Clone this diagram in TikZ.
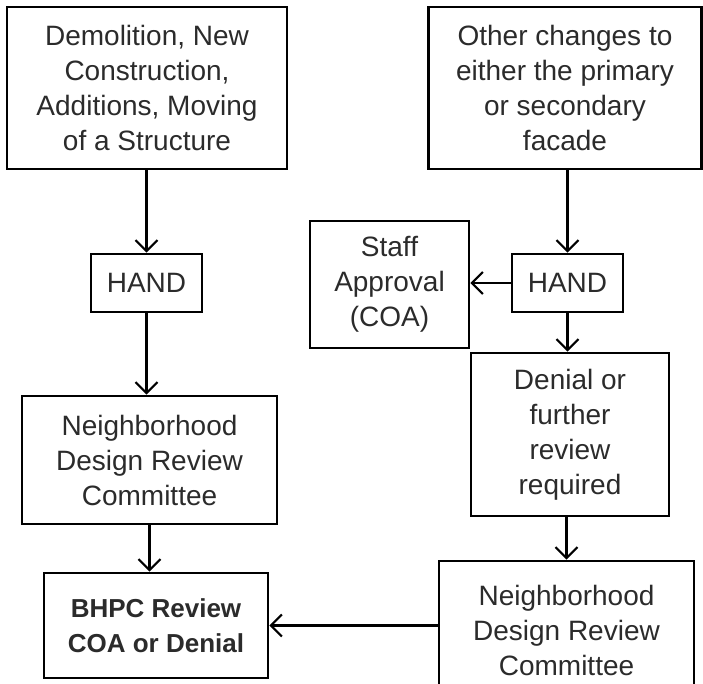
\documentclass[tikz,border=0pt]{standalone}
\usepackage{fontspec}
\setmainfont{Liberation Sans}
\usetikzlibrary{arrows.meta}
\definecolor{txt}{HTML}{2B2B2B}
\tikzset{
  box/.style={draw=black, line width=2.6pt, rectangle, align=center, inner sep=0pt,
    text=txt, font=\fontsize{28}{35}\selectfont},
  conn/.style={draw=black, line width=2.2pt, -{Straight Barb[length=11pt, width=22pt, line width=2.2pt]}}
}
\begin{document}
\begin{tikzpicture}[x=1pt,y=-1pt]
\useasboundingbox (0,0) rectangle (703,683);
\node[box, minimum width=280pt, minimum height=162pt] (b1) at (147,88)
  {Demolition, New\\Construction,\\Additions, Moving\\of a Structure};
\node[box, minimum width=273pt, minimum height=162pt] (b2) at (565,88)
  {Other changes to\\either the primary\\or secondary\\facade};
\node[box, minimum width=111pt, minimum height=58pt] (handl) at (146.5,283) {HAND};
\node[box, minimum width=111pt, minimum height=58pt] (handr) at (567.5,283) {HAND};
\node[box, minimum width=159pt, minimum height=127pt] (staff) at (389.5,284.5)
  {Staff\\Approval\\(COA)};
\node[box, minimum width=198pt, minimum height=163pt] (denial) at (570,434.5)
  {Denial or\\further\\review\\required};
\node[box, minimum width=255pt, minimum height=128pt] (ndrcl) at (149.5,460)
  {Neighborhood\\Design Review\\Committee};
\node[box, minimum width=224pt, minimum height=105pt, font=\fontsize{26}{35}\selectfont\bfseries] (bhpc) at (156,625.5)
  {BHPC Review\\COA or Denial};
\node[box, minimum width=255pt, minimum height=138pt] (ndrcr) at (566.5,630)
  {Neighborhood\\Design Review\\Committee};
\draw[conn] (b1.south -| handl) -- (handl.north);
\draw[conn] (handl.south) -- (handl.south |- ndrcl.north);
\draw[conn] (ndrcl.south) -- (ndrcl.south |- bhpc.north);
\draw[conn] (b2.south -| handr) -- (handr.north);
\draw[conn] (handr.west) -- (staff.east |- handr.west);
\draw[conn] (handr.south) -- (handr.south |- denial.north);
\draw[conn] (denial.south -| ndrcr) -- (ndrcr.north);
\draw[conn] (ndrcr.west |- bhpc.east) -- (bhpc.east);
\end{tikzpicture}
\end{document}
